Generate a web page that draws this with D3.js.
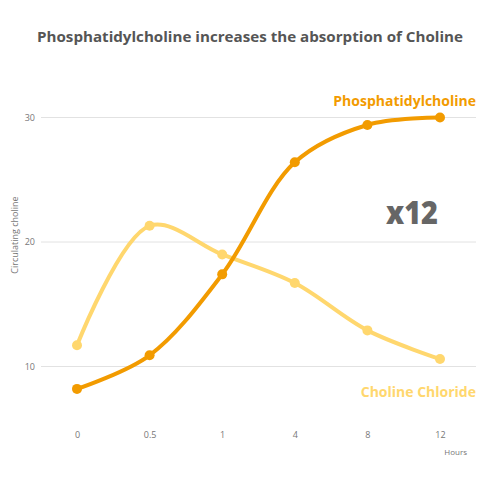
<!DOCTYPE html>
<html>
<head>
<meta charset="utf-8">
<script src="https://cdn.jsdelivr.net/npm/d3@7"></script>
<style>
  body { margin: 0; background: #fff; }
  svg { font-family: "Open Sans", sans-serif; }
</style>
</head>
<body>
<div id="chart"></div>
<script>
/* data */
var hours = ["0", "0.5", "1", "4", "8", "12"];
var phosphatidylcholine = [8.2, 10.9, 17.4, 26.4, 29.4, 30.0];
var cholineChloride = [11.7, 21.3, 19.0, 16.7, 12.9, 10.6];
var yTicks = [10, 20, 30];

var width = 500, height = 500;
var dark = "#f29b00", light = "#ffd76e";

var svg = d3.select("#chart").append("svg")
	.attr("width", width)
	.attr("height", height);

var x = d3.scalePoint()
	.domain(hours)
	.range([77, 440]);

var y = d3.scaleLinear()
	.domain([10, 30])
	.range([366.5, 117.5]);

/*title*/
svg.append("text")
	.attr("x", 250)
	.attr("y", 42)
	.attr("text-anchor", "middle")
	.attr("textLength", 426)
	.attr("lengthAdjust", "spacingAndGlyphs")
	.style("font-size", "15px")
	.style("font-weight", "700")
	.style("fill", "#555")
	.text("Phosphatidylcholine increases the absorption of Choline");

/*grid*/
svg.append("g")
	.selectAll("line")
	.data(yTicks)
	.enter().append("line")
	.attr("x1", 41)
	.attr("x2", 476)
	.attr("y1", function(d) { return y(d); })
	.attr("y2", function(d) { return y(d); })
	.style("stroke", "#e2e2e2")
	.style("stroke-width", 1);

/*y axis*/
var yAxis = svg.append("g")
	.attr("transform", "translate(41,0)")
	.call(d3.axisLeft(y).tickValues(yTicks).tickSize(0).tickPadding(6));
yAxis.select(".domain").remove();
yAxis.selectAll("text")
	.style("font-size", "9px")
	.style("fill", "#777")
	.style("font-family", "'Open Sans', sans-serif");

/*x axis*/
var xAxis = svg.append("g")
	.attr("transform", "translate(0,430)")
	.call(d3.axisBottom(x).tickSize(0).tickPadding(2));
xAxis.select(".domain").remove();
xAxis.selectAll("text")
	.style("font-size", "9px")
	.style("fill", "#777")
	.style("font-family", "'Open Sans', sans-serif");

svg.append("text")
	.attr("x", 467)
	.attr("y", 455)
	.attr("text-anchor", "end")
	.style("font-size", "8px")
	.style("fill", "#777")
	.text("Hours");

svg.append("text")
	.attr("transform", "translate(18,235) rotate(-90)")
	.attr("text-anchor", "middle")
	.style("font-size", "9px")
	.style("fill", "#777")
	.text("Circulating choline");

/*lines*/
var line = d3.line()
	.x(function(d, i) { return x(hours[i]); })
	.y(function(d) { return y(d); })
	.curve(d3.curveCatmullRom.alpha(0.5));

function drawSeries(values, color) {
	svg.append("path")
		.datum(values)
		.attr("d", line)
		.style("fill", "none")
		.style("stroke", color)
		.style("stroke-width", 4)
		.style("stroke-linecap", "round");
	svg.append("g")
		.selectAll("circle")
		.data(values)
		.enter().append("circle")
		.attr("cx", function(d, i) { return x(hours[i]); })
		.attr("cy", function(d) { return y(d); })
		.attr("r", 5)
		.style("fill", color);
}
drawSeries(cholineChloride, light);
drawSeries(phosphatidylcholine, dark);

/*labels*/
svg.append("text")
	.attr("x", 476)
	.attr("y", 106)
	.attr("text-anchor", "end")
	.style("font-size", "14px")
	.style("font-weight", "700")
	.style("fill", dark)
	.text("Phosphatidylcholine");

svg.append("text")
	.attr("x", 476)
	.attr("y", 397)
	.attr("text-anchor", "end")
	.style("font-size", "14px")
	.style("font-weight", "700")
	.style("fill", light)
	.text("Choline Chloride");

svg.append("text")
	.attr("x", 438)
	.attr("y", 224)
	.attr("text-anchor", "end")
	.attr("textLength", 52)
	.attr("lengthAdjust", "spacingAndGlyphs")
	.style("font-size", "32px")
	.style("font-weight", "800")
	.style("fill", "#666")
	.text("x12");
</script>
</body>
</html>
